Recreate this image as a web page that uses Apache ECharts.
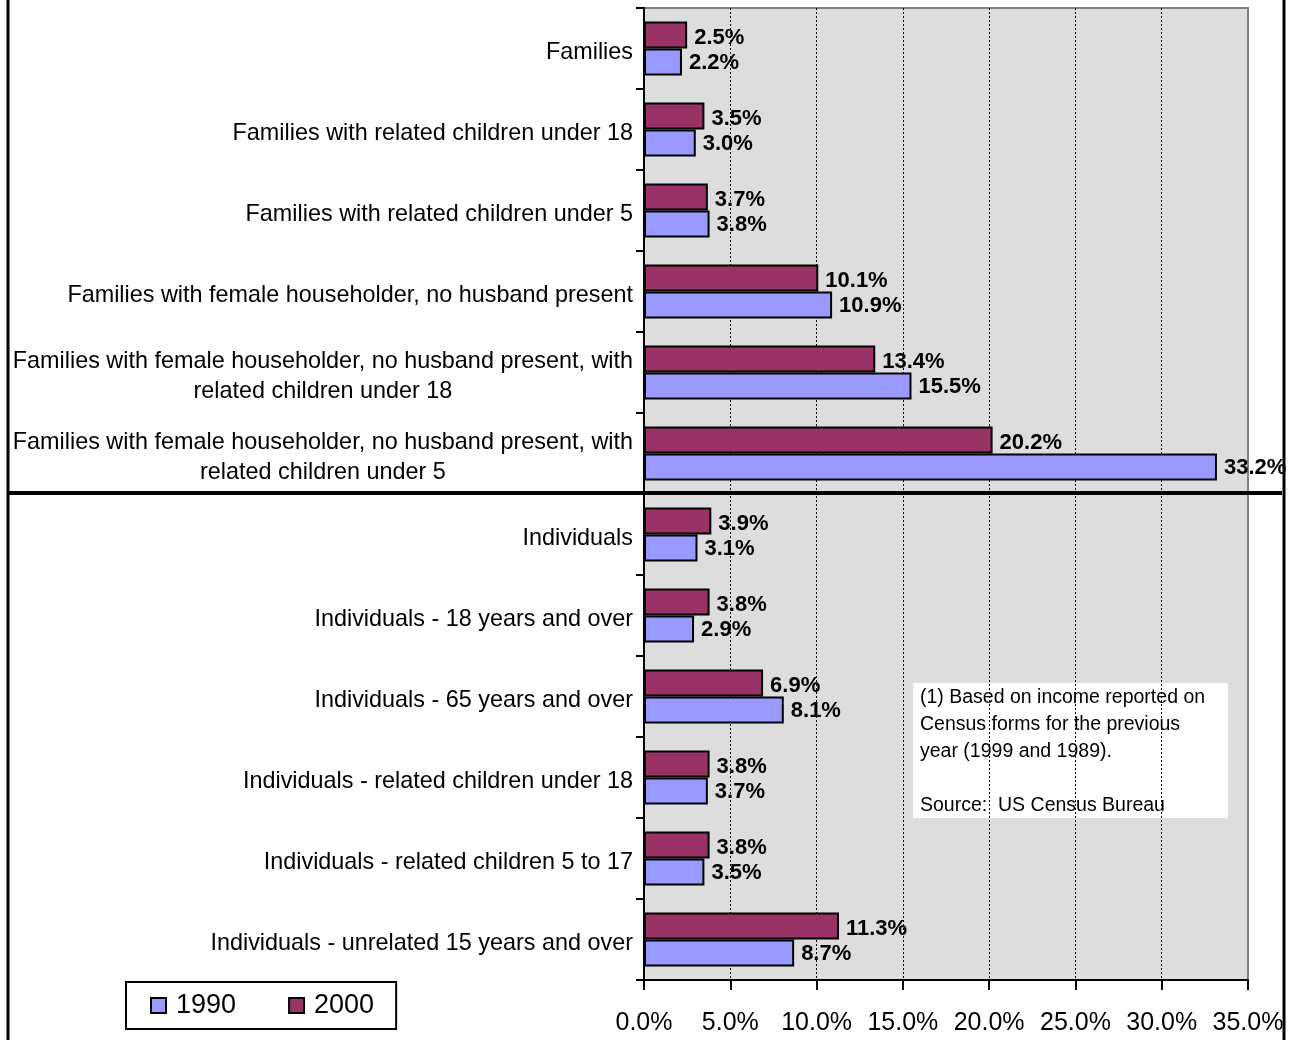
<!DOCTYPE html>
<html>
<head>
<meta charset="utf-8">
<title>Poverty rates, 1990 and 2000</title>
<script src="https://cdn.jsdelivr.net/npm/echarts@6/dist/echarts.min.js"></script>
<style>
  html, body { margin: 0; padding: 0; background: #ffffff; }
  #chart { width: 1295px; height: 1040px; }
</style>
</head>
<body>
<div id="chart"></div>
<script>
// Poverty categories, listed top to bottom
const categories = [
  'Families',
  'Families with related children under 18',
  'Families with related children under 5',
  'Families with female householder, no husband present',
  'Families with female householder, no husband present, with\nrelated children under 18',
  'Families with female householder, no husband present, with\nrelated children under 5',
  'Individuals',
  'Individuals - 18 years and over',
  'Individuals - 65 years and over',
  'Individuals - related children under 18',
  'Individuals - related children 5 to 17',
  'Individuals - unrelated 15 years and over'
];

// Percent below poverty level
const values1990 = [2.2, 3.0, 3.8, 10.9, 15.5, 33.2, 3.1, 2.9, 8.1, 3.7, 3.5, 8.7];
const values2000 = [2.5, 3.5, 3.7, 10.1, 13.4, 20.2, 3.9, 3.8, 6.9, 3.8, 3.8, 11.3];

// Value axis ticks
const axisMin = 0;
const axisMax = 35;
const axisStep = 5;

const noteLines = [
  '(1) Based on income reported on',
  'Census forms for the previous',
  'year (1999 and 1989).',
  '',
  'Source:  US Census Bureau'
];

const FONT = '"Liberation Sans", Arial, sans-serif';

const chart = echarts.init(document.getElementById('chart'), null, { renderer: 'canvas' });

const gridLeft = 644, gridTop = 8, gridWidth = 604, gridHeight = 972;
// Number of family rows above the divider line
const familyRows = 6;
const dividerY = gridTop + gridHeight / categories.length * familyRows - 1;

const barLabel = {
  show: true,
  position: 'right',
  distance: 7,
  offset: [0, 2],
  color: '#000',
  fontFamily: FONT,
  fontWeight: 'bold',
  fontSize: 22,
  formatter: p => p.value.toFixed(1) + '%'
};

chart.setOption({
  backgroundColor: '#ffffff',
  animation: false,
  grid: {
    left: gridLeft,
    top: gridTop,
    width: gridWidth,
    height: gridHeight,
    show: true,
    backgroundColor: '#dddddd',
    borderColor: '#808080',
    borderWidth: 2
  },
  legend: {
    data: ['1990', '2000'],
    left: 126,
    top: 982,
    orient: 'horizontal',
    icon: 'rect',
    itemWidth: 15,
    itemHeight: 15,
    itemGap: 52,
    padding: [10, 22, 10, 24],
    borderColor: '#000',
    borderWidth: 2,
    backgroundColor: '#ffffff',
    textStyle: { fontFamily: FONT, fontSize: 27, color: '#000', padding: [3, 0, 0, 5] }
  },
  xAxis: {
    type: 'value',
    min: axisMin,
    max: axisMax,
    interval: axisStep,
    axisLine: { show: true, lineStyle: { color: '#000', width: 2 } },
    axisTick: { show: true, length: 10, lineStyle: { color: '#000', width: 2 } },
    axisLabel: {
      margin: 31,
      color: '#000',
      fontFamily: FONT,
      fontSize: 25,
      formatter: v => v.toFixed(1) + '%'
    },
    splitLine: {
      show: true,
      showMinLine: false,
      showMaxLine: false,
      lineStyle: { color: '#000', width: 1, type: [2, 2] }
    }
  },
  yAxis: {
    type: 'category',
    data: categories,
    inverse: true,
    axisLine: { show: true, lineStyle: { color: '#000', width: 2 } },
    axisTick: { show: true, length: 8, lineStyle: { color: '#000', width: 2 } },
    axisLabel: {
      margin: 11,
      padding: [8, 0, 0, 0],
      color: '#000',
      fontFamily: FONT,
      fontSize: 23.4,
      lineHeight: 30,
      formatter: v => v.split('\n').map(s => '{c|' + s + '}').join('\n'),
      rich: {
        c: { align: 'center', fontFamily: FONT, fontSize: 23.4, lineHeight: 30, color: '#000' }
      }
    },
    splitLine: { show: false }
  },
  series: [
    {
      name: '2000',
      type: 'bar',
      data: values2000,
      barWidth: 27,
      barGap: '0%',
      itemStyle: { color: '#993366', borderColor: '#000', borderWidth: 2 },
      label: Object.assign({}, barLabel, { offset: [0, 3] })
    },
    {
      name: '1990',
      type: 'bar',
      data: values1990,
      barWidth: 27,
      barGap: '0%',
      itemStyle: { color: '#9999ff', borderColor: '#000', borderWidth: 2 },
      label: Object.assign({}, barLabel, { offset: [0, 1] })
    }
  ],
  graphic: [
    // frame lines at left and right
    { type: 'line', z: 100, shape: { x1: 8, y1: 0, x2: 8, y2: 1040 }, style: { stroke: '#000', lineWidth: 3 } },
    { type: 'line', z: 100, shape: { x1: 1284, y1: 0, x2: 1284, y2: 1040 }, style: { stroke: '#000', lineWidth: 3 } },
    // divider between family and individual rows
    { type: 'line', z: 100, shape: { x1: 8, y1: dividerY, x2: 1282, y2: dividerY }, style: { stroke: '#000', lineWidth: 4 } },
    // footnote box
    {
      type: 'group',
      left: 913,
      top: 683,
      z: 90,
      children: [
        { type: 'rect', shape: { x: 0, y: 0, width: 315, height: 135 }, style: { fill: '#ffffff' } },
        {
          type: 'text',
          x: 7,
          y: 1,
          style: {
            text: noteLines.join('\n'),
            fill: '#000',
            font: '19.5px ' + FONT,
            lineHeight: 27
          }
        }
      ]
    }
  ]
});
</script>
</body>
</html>
